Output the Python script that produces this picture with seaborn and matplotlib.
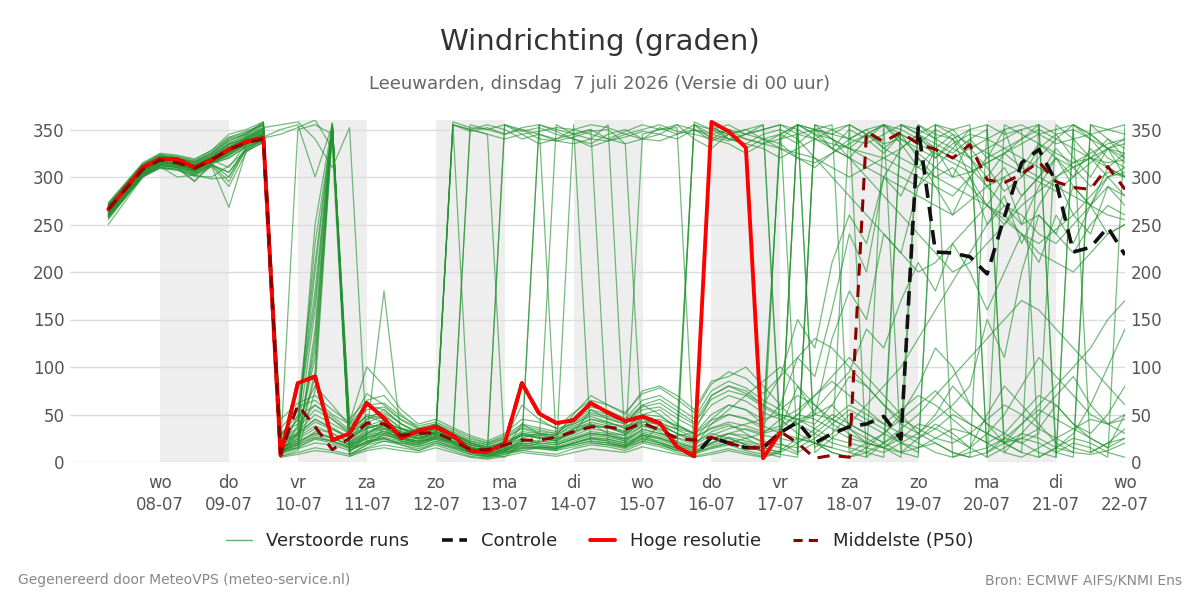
import numpy as np
import pandas as pd
import matplotlib
matplotlib.use("Agg")
import matplotlib.pyplot as plt
import seaborn as sns
from matplotlib.lines import Line2D

# ---------------- data ----------------
day_names = ["wo", "do", "vr", "za", "zo", "ma", "di", "wo", "do", "vr", "za", "zo", "ma", "di", "wo"]
day_dates = ["08-07", "09-07", "10-07", "11-07", "12-07", "13-07", "14-07", "15-07",
             "16-07", "17-07", "18-07", "19-07", "20-07", "21-07", "22-07"]
shaded_days = [0, 2, 4, 6, 8, 10, 12]  # shaded day indices (alternating)

# time steps (days from wo 08-07 00:00): 07-07 06h, then 6-hourly from 07-07 18h to 22-07 00h
time_days = [-0.75] + list(np.arange(-0.25, 14.01, 0.25))

hoge_resolutie = [266, 310, 319, 319, 310, 318, 329, 337, 341, 7,
                  83, 90, 23, 30, 62, 46, 25, 33, 37, 28, 12, 11,
                  19, 83, 51, 41, 44, 62, 52, 43, 48, 41, 16, 6,
                  358, 348, 331, 4, 31]

controle = [266, 310, 319, 319, 310, 318, 329, 337, 341, 7,
            83, 90, 23, 30, 62, 46, 25, 33, 37, 28, 12, 11,
            19, 83, 51, 41, 44, 62, 52, 43, 48, 41, 16, 6,
            26, 20, 15, 15, 31, 42, 20, 30, 37, 40, 48, 24,
            352, 221, 220, 216, 198, 258, 315, 329, 295, 221, 226, 247, 218]

middelste = [266, 308, 318, 315, 309, 318, 329, 336, 340, 9,
             60, 37, 13, 25, 41, 40, 28, 30, 31, 23, 13, 13,
             18, 23, 23, 26, 32, 37, 37, 34, 41, 34, 25, 23,
             26, 20, 15, 15, 32, 20, 4, 7, 5, 348, 337, 347,
             335, 329, 320, 334, 297, 294, 303, 316, 295, 289, 287, 311, 287]

m01 = [262,305,318,316,305,320,330,338,345,12, 30,160,354,18, 35,42,30,28, 30,22,15,10, 20,30,25,22, 35,40,30,28, 45,38,30,20, 30,25,18,12, 35,80,50,130, 180,150,240,220, 290,330,300,340, 320,350,300,330, 345,320,300,330, 315]
m02 = [268,310,320,318,312,322,335,340,350,8, 25,120,355,10, 28,35,22,18, 25,355,348,352, 345,350,340,338, 342,348,350,335, 340,352,345,350, 338,345,330,340, 335,320,310,325, 340,350,330,345, 320,300,310,290, 270,250,280,300, 320,310,290,305, 300]
m03 = [258,300,312,310,295,315,320,332,338,5, 40,200,356,25, 45,50,35,30, 40,30,20,15, 12,40,30,25, 30,55,45,40, 60,50,35,355, 340,350,345,355, 20,10,350,340, 330,345,355,10, 25,40,30,15, 50,80,60,40, 20,10,355,340, 320]
m04 = [270,312,322,320,315,325,340,345,358,15, 20,90,350,12, 22,25,18,12, 20,15,8,6, 10,15,20,18, 25,30,28,22, 35,30,28,30, 45,60,55,40, 60,110,90,160, 240,200,300,330, 345,320,340,300, 270,300,250,290, 320,290,270,300, 310]
m05 = [265,306,316,312,310,318,310,335,344,20, 35,230,352,30, 50,45,30,35, 38,28,18,14, 22,60,45,35, 40,48,42,35, 50,55,40,30, 70,80,75,60, 90,150,120,210, 260,230,300,280, 320,290,260,300, 250,280,230,270, 300,260,240,290, 270]
m06 = [255,302,310,308,302,298,300,328,340,10, 15,140,357,8, 18,30,25,20, 28,20,12,8, 5,20,18,15, 20,25,22,18, 28,20,12,358, 350,345,340,335, 330,325,320,310, 300,310,320,330, 345,355,5,15, 30,20,10,355, 345,350,10,20, 25]
m07 = [272,314,324,322,318,328,342,348,355,6, 50,180,353,40, 60,55,40,30, 35,25,15,12, 18,25,30,28, 50,70,60,50, 75,80,70,55, 85,90,100,80, 60,40,30,20, 15,10,5,355, 345,330,320,310, 290,270,250,260, 240,220,250,270, 260]
m08 = [260,304,314,315,308,316,322,334,342,350, 355,300,355,15, 30,38,25,22, 32,20,10,8, 14,18,22,20, 26,32,30,25, 38,32,20,15, 25,30,35,30, 45,30,20,10, 5,15,30,50, 80,120,100,60, 40,20,10,5, 15,30,60,100, 140]
m09 = [266,308,320,317,311,319,328,339,346,18, 28,110,355,20, 40,35,28,25, 30,358,352,350, 355,345,348,352, 350,345,340,348, 355,350,352,8, 20,30,25,15, 10,355,345,340, 330,320,310,300, 290,310,330,350, 355,10,30,50, 70,90,60,40, 50]
m10 = [263,307,317,313,307,317,326,337,343,22, 45,170,354,28, 38,32,30,32, 36,30,22,18, 25,35,30,28, 38,45,40,38, 42,45,38,30, 40,50,45,35, 345,335,350,330, 320,340,355,335, 310,330,345,320, 300,325,310,335, 320,300,330,310, 325]
m11 = [268,309,319,318,313,320,332,340,348,14, 22,95,350,12, 20,28,25,22, 24,18,10,8, 10,12,15,16, 18,22,20,16, 25,20,15,10, 15,20,25,30, 35,50,70,90, 110,90,70,50, 30,20,10,5, 10,20,30,25, 15,10,8,12, 20]
m12 = [257,303,312,310,303,313,305,330,340,8, 30,250,356,35, 48,42,35,30, 34,26,16,12, 16,30,28,24, 35,42,38,32, 48,40,30,25, 35,40,30,20, 15,8,355,350, 340,335,345,355, 350,340,330,320, 330,340,350,355, 5,350,340,330, 325]
m13 = [271,313,323,320,316,325,338,346,356,25, 55,210,355,45, 65,70,50,35, 40,30,20,15, 20,28,25,22, 32,38,36,30, 40,35,25,18, 28,35,40,45, 50,45,40,60, 90,80,60,40, 30,45,60,80, 150,110,200,260, 240,290,270,310, 300]
m14 = [264,306,315,314,309,317,327,336,344,12, 18,130,352,14, 26,30,22,20, 28,22,14,10, 12,22,20,18, 24,30,28,24, 34,30,22,16, 40,55,70,85, 100,80,60,40, 30,20,15,25, 40,35,25,15, 5,355,345,335, 325,315,320,330, 335]
m15 = [259,301,310,309,296,312,290,326,338,6, 12,75,348,6, 15,22,18,14, 20,14,8,5, 8,14,16,14, 20,24,22,18, 26,22,14,10, 20,25,18,10, 5,355,350,345, 355,5,20,35, 50,70,90,110, 130,150,170,160, 140,120,100,80, 60]
m16 = [267,310,318,316,311,319,330,342,352,355, 358,340,310,352, 20,35,30,25, 30,355,350,345, 340,345,335,340, 345,340,338,342, 348,345,340,350, 345,340,335,330, 320,330,340,350, 355,345,335,340, 330,320,335,345, 340,330,320,310, 300,310,320,315, 318]
m17 = [261,304,314,312,306,314,324,335,345,15, 350,355,345,20, 30,40,35,28, 32,25,18,14, 355,348,352,345, 340,335,345,350, 340,338,345,355, 350,355,345,340, 330,320,315,325, 335,345,355,340, 325,310,300,305, 315,325,335,345, 350,355,345,330, 320]
m18 = [269,311,321,319,314,323,335,343,352,10, 20,30,25,18, 25,30,28,24, 30,25,350,355, 350,340,345,338, 335,340,355,15, 30,25,20,15, 352,345,350,340, 345,355,10,25, 40,60,80,100, 130,160,190,220, 250,270,260,240, 230,250,270,290, 280]
m19 = [250,300,309,307,301,300,312,328,336,12, 15,25,22,15, 20,25,20,18, 25,20,12,10, 355,350,345,340, 350,355,352,345, 340,345,355,350, 342,338,345,350, 355,350,340,330, 320,310,300,290, 280,270,260,275, 290,300,310,300, 290,280,270,260, 255]
m20 = [266,307,317,315,309,318,328,338,346,20, 30,45,35,25, 35,40,32,28, 32,25,355,350, 345,352,355,348, 340,332,338,345, 350,355,348,345, 340,335,325,335, 340,345,350,355, 10,20,15,5, 355,345,340,350, 5,15,25,20, 10,5,355,350, 345]
m21 = [273,315,325,323,319,328,345,350,358,30, 40,60,45,30, 45,55,40,30, 30,355,350,345, 10,25,20,355, 345,350,340,335, 20,40,35,30, 350,340,335,345, 350,340,320,300, 280,260,240,220, 200,210,230,250, 270,260,240,220, 210,200,220,240, 250]
m22 = [262,305,316,314,308,316,325,336,343,16, 24,35,30,20, 30,36,28,24, 28,22,15,12, 15,20,355,350, 345,350,20,15, 345,350,355,340, 330,345,350,355, 30,45,50,60, 40,30,20,355, 345,335,325,340, 350,20,40,60, 80,100,120,150, 170]
m23 = [264,306,316,313,308,316,326,337,345,10, 18,28,22,16, 24,28,24,20, 26,20,12,8, 12,18,16,14, 20,25,24,20, 28,25,18,12, 18,22,20,15, 10,20,35,50, 40,30,20,10, 15,25,35,30, 20,10,5,15, 25,35,45,40, 30]
m24 = [260,303,313,311,304,314,300,333,341,8, 14,20,18,12, 20,24,20,16, 22,16,10,6, 10,16,14,12, 355,20,18,14, 22,18,12,8, 14,18,12,8, 355,345,340,335, 330,325,320,310, 300,290,280,300, 320,330,340,355, 10,20,15,5, 355]
m25 = [267,309,319,317,312,320,331,341,349,14, 26,38,30,22, 32,38,30,26, 30,24,16,12, 16,24,22,20, 28,35,32,28, 38,34,26,20, 32,38,34,28, 25,20,30,45, 60,50,40,55, 70,60,45,30, 20,30,50,70, 60,40,30,50, 80]
m26 = [270,311,321,319,315,322,336,344,354,20, 32,50,40,30, 42,48,36,30, 34,28,20,16, 20,30,28,26, 36,45,42,36, 50,48,38,30, 50,60,55,45, 340,355,345,330, 350,340,325,345, 335,350,340,320, 290,310,280,300, 330,310,320,340, 330]
m27 = [258,302,311,300,302,312,305,329,339,6, 10,15,12,8, 14,18,15,12, 18,12,6,4, 8,12,10,8, 14,18,16,12, 20,16,10,6, 10,14,10,6, 12,25,20,10, 5,10,20,30, 20,10,5,10, 15,25,20,10, 5,355,340,320, 310]
m28 = [265,307,317,314,310,318,329,339,347,18, 28,42,34,26, 36,40,32,26, 30,355,15,12, 16,28,26,22, 30,38,36,30, 42,40,30,24, 44,50,46,38, 30,25,20,15, 355,345,330,320, 310,300,290,280, 270,255,240,230, 245,260,280,300, 305]
m29 = [263,305,315,313,307,316,324,335,344,24, 36,55,45,32, 48,52,40,32, 36,28,20,16, 22,32,30,28, 40,50,46,40, 55,58,46,36, 60,70,64,52, 45,55,70,85, 70,55,40,30, 25,35,50,40, 30,50,80,110, 90,70,50,40, 45]
m30 = [269,310,320,318,313,321,333,342,351,12, 20,32,26,18, 26,32,26,22, 28,22,14,10, 14,22,355,18, 24,30,28,24, 32,28,20,355, 345,350,340,335, 345,355,15,30, 50,40,30,20, 10,355,345,335, 325,315,305,295, 285,300,315,330, 340]
m31 = [261,304,313,311,306,315,323,334,342,35, 58,65,50,40, 72,60,45,36, 40,32,24,20, 28,40,36,32, 46,58,54,46, 65,70,58,46, 75,85,78,65, 55,70,60,45, 35,20,15,30, 355,340,350,330, 310,285,300,320, 340,355,345,330, 300]
m32 = [266,308,318,316,311,319,330,340,348,9, 16,24,20,14, 22,26,22,18, 24,18,10,6, 10,14,14,12, 16,20,18,16, 22,18,12,10, 355,340,345,350, 355,10,20,15, 10,5,355,345, 335,325,315,305, 315,325,340,350, 340,330,320,310, 300]
m33 = [259,302,312,310,303,313,295,331,340,28, 44,80,60,38, 55,58,44,34, 38,30,22,18, 24,36,32,30, 42,52,48,42, 58,62,50,40, 66,75,70,58, 48,40,55,75, 95,140,120,170, 210,180,230,200, 160,200,240,210, 260,230,270,240, 250]
m34 = [270,312,322,320,316,324,338,345,355,45, 62,70,55,42, 100,80,55,40, 45,36,28,22, 30,45,42,36, 52,65,60,52, 72,78,66,52, 82,95,88,72, 90,110,130,120, 100,80,60,45, 35,25,20,30, 45,60,50,35, 25,15,10,20, 35]
m35 = [262,306,315,313,307,316,325,336,344,15, 22,30,25,18, 28,32,26,22, 26,20,13,9, 13,20,18,16, 22,28,26,22, 30,26,18,14, 24,30,28,22, 18,15,25,40, 55,45,35,20, 15,20,10,5, 355,345,350,5, 15,25,20,10, 5]
m36 = [268,309,319,317,313,321,334,341,350,5, 8,12,10,6, 12,15,12,10, 15,10,5,3, 6,10,8,6, 10,14,12,10, 16,12,8,5, 8,12,8,5, 10,355,350,345, 340,350,355,350, 340,330,320,330, 340,350,355,345, 335,340,345,350, 355]
m37 = [257,300,310,308,301,311,268,327,337,20, 30,45,36,26, 38,44,34,28, 32,26,18,14, 20,28,26,24, 32,40,36,32, 46,42,34,26, 36,42,38,32, 38,50,45,35, 25,20,30,45, 60,75,55,40, 30,20,25,35, 60,40,25,15, 50]
m38 = [271,313,323,321,317,326,341,347,357,12, 18,26,22,16, 30,180,24,20, 26,20,12,8, 12,18,16,14, 20,26,24,20, 28,24,16,12, 20,26,22,18, 30,40,50,45, 35,25,15,10, 5,355,350,355, 10,25,40,55, 45,35,25,15, 25]
m39 = [264,307,316,314,309,317,327,338,345,30, 48,60,48,34, 60,62,48,38, 42,34,26,20, 26,38,34,30, 44,55,50,44, 60,66,54,42, 70,80,72,60, 50,45,35,25, 20,15,10,20, 30,50,80,60, 40,30,20,30, 355,340,320,300, 280]
m40 = [260,303,313,311,305,314,320,332,341,345, 352,360,330,8, 18,22,20,16, 22,16,10,7, 12,16,15,13, 18,22,20,17, 24,20,14,10, 16,20,16,12, 8,5,355,340, 320,300,280,260, 240,220,200,210, 230,250,270,285, 300,315,325,335, 340]

members = [m01, m02, m03, m04, m05, m06, m07, m08, m09, m10,
           m11, m12, m13, m14, m15, m16, m17, m18, m19, m20,
           m21, m22, m23, m24, m25, m26, m27, m28, m29, m30,
           m31, m32, m33, m34, m35, m36, m37, m38, m39, m40]

n = len(time_days)
for i, m in enumerate(members):
    assert len(m) == n, (i + 1, len(m))

ens_df = pd.DataFrame({
    "t": np.tile(time_days, len(members)),
    "dir": np.concatenate(members),
    "member": np.repeat(np.arange(len(members)), n),
})
hr_df = pd.DataFrame({"t": time_days[:len(hoge_resolutie)], "dir": hoge_resolutie})
ctl_df = pd.DataFrame({"t": time_days, "dir": controle})
p50_df = pd.DataFrame({"t": time_days, "dir": middelste})

# ---------------- plot ----------------
sns.set_theme(style="white")
plt.rcParams["font.family"] = ["DejaVu Sans"]

fig = plt.figure(figsize=(12, 6), dpi=100)
ax = fig.add_axes([70 / 1200, 1 - 462 / 600, (1125 - 70) / 1200, (462 - 120) / 600])

for d in shaded_days:
    ax.axvspan(d, d + 1, color="#eeeeee", lw=0, zorder=0)

green = "#22922f"
sns.lineplot(data=ens_df, x="t", y="dir", units="member", estimator=None,
             color=green, lw=0.9, alpha=0.62, ax=ax, legend=False, zorder=2)
sns.lineplot(data=ctl_df, x="t", y="dir", color="#111111", lw=2.6, ax=ax, zorder=3,
             linestyle=(0, (4, 2.5)))
sns.lineplot(data=hr_df, x="t", y="dir", color="#ff0000", lw=2.8, ax=ax, zorder=4)
sns.lineplot(data=p50_df, x="t", y="dir", color="#8b0000", lw=2.2, ax=ax, zorder=5,
             linestyle=(0, (4, 3)))

x_left = -(160 - 70) / ((1125 - 160) / 14)
ax.set_xlim(x_left, 14)
ax.set_ylim(0, 360)
ax.set_yticks(np.arange(0, 351, 50))
ax.yaxis.grid(True, color="#dddddd", lw=1, zorder=1)
ax.xaxis.grid(False)
ax.set_axisbelow(True)
for s in ax.spines.values():
    s.set_visible(False)
ax.set_xlabel("")
ax.set_ylabel("")

ax.set_xticks(np.arange(len(day_dates)))
ax.set_xticklabels([f"{a}\n{b}" for a, b in zip(day_names, day_dates)],
                   color="#555555", fontsize=12, linespacing=1.25)
ax.tick_params(axis="x", length=7, width=1.3, color="#999999", pad=2)
ax.tick_params(axis="y", length=0, pad=4, labelsize=12, labelcolor="#555555",
               labelleft=True, labelright=True)

fig.text(0.5, 1 - 42 / 600, "Windrichting (graden)", ha="center", va="center",
         fontsize=21, color="#333333")
fig.text(0.5, 1 - 84 / 600, "Leeuwarden, dinsdag  7 juli 2026 (Versie di 00 uur)",
         ha="center", va="center", fontsize=13, color="#666666")
fig.text(18 / 1200, 1 - 580 / 600, "Gegenereerd door MeteoVPS (meteo-service.nl)",
         ha="left", va="center", fontsize=10, color="#888888")
fig.text(1182 / 1200, 1 - 580 / 600, "Bron: ECMWF AIFS/KNMI Ens",
         ha="right", va="center", fontsize=10, color="#888888")

handles = [
    Line2D([], [], color=green, lw=1, alpha=0.7),
    Line2D([], [], color="#111111", lw=2.6, linestyle=(0, (3, 1.8))),
    Line2D([], [], color="#ff0000", lw=2.8),
    Line2D([], [], color="#8b0000", lw=2.2, linestyle=(0, (3, 2))),
]
labels = ["Verstoorde runs", "Controle", "Hoge resolutie", "Middelste (P50)"]
fig.legend(handles, labels, loc="center", bbox_to_anchor=(0.5, 1 - 541 / 600),
           ncol=4, frameon=False, fontsize=13, handlelength=1.4, columnspacing=1.8,
           handletextpad=0.8)

fig.savefig("out.png", dpi=100)
